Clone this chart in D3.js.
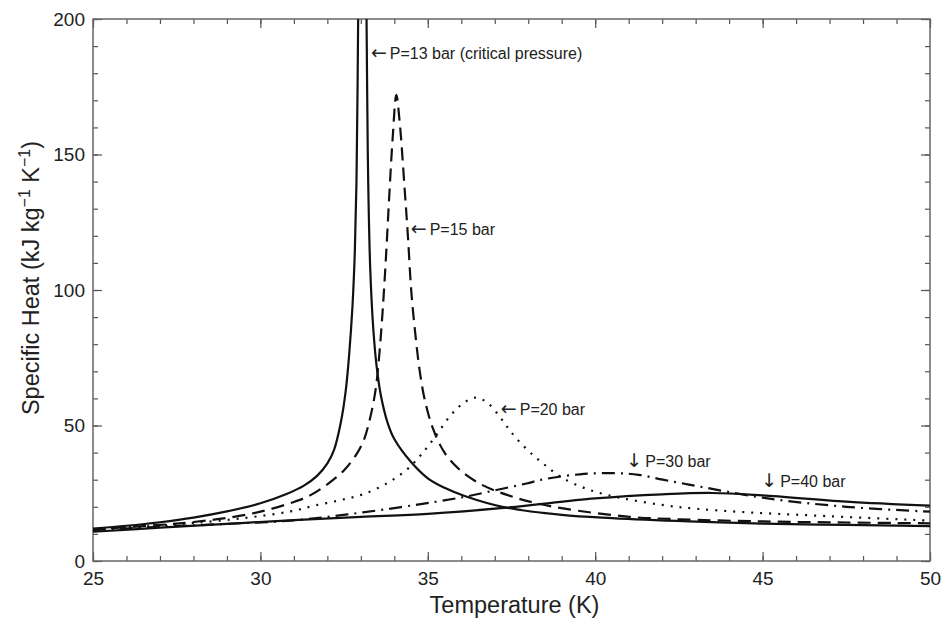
<!DOCTYPE html>
<html>
<head>
<meta charset="utf-8">
<script src="https://cdn.jsdelivr.net/npm/d3@7"></script>
<style>
  body { margin: 0; background: #fff; }
  svg text { font-family: "Liberation Sans", Arial, Helvetica, sans-serif; fill: #222; }
  svg text tspan.arrow { font-family: "DejaVu Sans", "Liberation Sans", sans-serif; }
</style>
</head>
<body>
<svg id="chart" width="944" height="621"></svg>
<script>
// Temperature (K) / specific heat (kJ kg-1 K-1) pairs
const p13 = [[25, 12], [26, 13], [27, 14.3], [28, 16], [29, 18.3], [30, 21.3], [30.8, 24.8],
  [31.3, 27.8], [31.7, 31.5], [32.0, 36], [32.2, 41], [32.4, 51], [32.55, 63], [32.65, 76],
  [32.75, 94], [32.82, 114], [32.87, 140], [32.9, 172], [32.93, 215], [33.03, 300],
  [33.16, 215], [33.19, 172], [33.22, 140], [33.28, 108], [33.37, 86], [33.47, 72],
  [33.6, 61], [33.8, 51], [34.0, 45], [34.5, 36.5], [35.0, 30.5], [35.5, 27], [36.1, 24],
  [37.3, 19.8], [39, 17], [40.5, 15.8], [42.8, 14.6], [45, 13.8], [47.5, 13.3], [50, 12.9]];
const p15 = [[25, 11.7], [27, 13.3], [28, 14.4], [29, 15.9], [30, 18.2], [31.0, 21.8],
  [31.5, 24.3], [32.0, 28.3], [32.5, 33.5], [32.9, 40], [33.1, 45], [33.3, 54], [33.45, 64],
  [33.55, 76], [33.65, 92], [33.75, 112], [33.85, 135], [33.95, 156], [34.06, 172],
  [34.16, 162], [34.31, 137], [34.41, 119], [34.51, 99], [34.66, 80], [34.76, 70],
  [34.9, 60], [35.15, 49], [35.5, 40], [35.96, 33.6], [36.5, 28.9], [37.0, 26],
  [37.54, 23.7], [38.04, 21.9], [39.04, 19.4], [41.03, 16.3], [42.5, 15.4], [45, 14.6],
  [47.5, 14.2], [50, 13.9]];
const p20 = [[25, 11.8], [27, 13.1], [28, 14], [29.4, 15.7], [30.9, 18.3], [31.6, 20.4],
  [32.4, 22.5], [33.06, 24.6], [33.8, 28.8], [34.4, 34], [34.8, 39.2], [35.2, 45.5],
  [35.7, 54], [36.1, 58.6], [36.45, 60.3], [36.8, 58.2], [37.15, 53.2], [37.4, 49],
  [37.7, 44.5], [38.14, 39.1], [38.5, 35.4], [39, 30.8], [39.84, 26.2], [40.83, 23.1],
  [42, 20.7], [43, 19.3], [44.5, 18], [46.5, 16.8], [50, 14.9]];
const p30 = [[25, 11.4], [27, 12.6], [29, 13.7], [30.9, 14.9], [32.6, 17.2], [34.2, 19.9],
  [35.26, 21.9], [36.15, 23.8], [37.05, 26.2], [37.95, 28.6], [38.4, 30], [39.54, 32],
  [40.63, 32.4], [41.3, 31.8], [42.02, 30], [42.8, 28.2], [45.1, 23.2], [47.5, 20], [50, 18.2]];
const p40 = [[25, 10.8], [27, 12.3], [29, 13.7], [31, 15.1], [33, 16.3], [35, 17.4],
  [37.35, 19.7], [40, 23.1], [42, 24.6], [43.5, 25.1], [45, 24.2], [47.5, 21.9], [50, 20.4]];

const xMajor = [25, 30, 35, 40, 45, 50];
const yMajor = [0, 50, 100, 150, 200];
const xMinor = d3.range(25, 51, 1);
const yMinor = d3.range(0, 201, 10);

// Layout
const margin = { top: 19, right: 14, bottom: 60, left: 93 };
const width = 944 - margin.left - margin.right;
const height = 621 - margin.top - margin.bottom;

const svg = d3.select('#chart')
  .append('g')
  .attr('transform', `translate(${margin.left},${margin.top})`);

const x = d3.scaleLinear().domain([25, 50]).range([0, width]);
const y = d3.scaleLinear().domain([0, 200]).range([height, 0]);

// inward ticks on all four sides
const axes = [
  { make: () => d3.axisBottom(x), t: `translate(0,${height})`, maj: xMajor, min: xMinor, lab: 'x' },
  { make: () => d3.axisTop(x), t: 'translate(0,0)', maj: xMajor, min: xMinor, lab: null },
  { make: () => d3.axisLeft(y), t: 'translate(0,0)', maj: yMajor, min: yMinor, lab: 'y' },
  { make: () => d3.axisRight(y), t: `translate(${width},0)`, maj: yMajor, min: yMinor, lab: null },
];
axes.forEach((ax) => {
  [[ax.min, 5, false], [ax.maj, 9, true]].forEach(([vals, size, major]) => {
    const g = svg.append('g')
      .attr('transform', ax.t)
      .call(ax.make()
        .tickValues(vals)
        .tickSizeInner(-size)
        .tickSizeOuter(0)
        .tickFormat(major && ax.lab ? d3.format('d') : ''));
    g.select('.domain').remove();
    g.selectAll('line').attr('stroke', '#555').attr('stroke-width', 1.2);
    const labels = g.selectAll('text').attr('font-size', 19).attr('fill', '#222');
    if (ax.lab === 'x') labels.attr('y', 11);
    if (ax.lab === 'y') labels.attr('x', -8);
  });
});

// frame
svg.append('rect')
  .attr('width', width)
  .attr('height', height)
  .attr('fill', 'none')
  .attr('stroke', '#666')
  .attr('stroke-width', 1.5);

svg.append('clipPath').attr('id', 'plotClip')
  .append('rect').attr('width', width).attr('height', height);

const line = d3.line()
  .curve(d3.curveCatmullRom.alpha(0.5))
  .x((d) => x(d[0]))
  .y((d) => y(d[1]));

const series = [
  { data: p13, dash: null },
  { data: p15, dash: '13,7' },
  { data: p20, dash: '2,7' },
  { data: p30, dash: '13,6,2,6' },
  { data: p40, dash: null },
];

series.forEach((s) => {
  svg.append('path')
    .datum(s.data)
    .attr('clip-path', 'url(#plotClip)')
    .attr('fill', 'none')
    .attr('stroke', '#111')
    .attr('stroke-width', 2.2)
    .attr('stroke-dasharray', s.dash)
    .attr('d', line);
});

// labels on the curves
const notes = [
  { t: 33.3, c: 187.4, arrow: '\u2190', text: 'P=13 bar (critical pressure)' },
  { t: 34.49, c: 122.4, arrow: '\u2190', text: 'P=15 bar' },
  { t: 37.18, c: 56, arrow: '\u2190', text: 'P=20 bar' },
  { t: 40.93, c: 36.6, arrow: '\u2193', text: 'P=30 bar' },
  { t: 44.96, c: 29.3, arrow: '\u2193', text: 'P=40 bar' },
];
const noteText = svg.selectAll('.note')
  .data(notes)
  .enter()
  .append('text')
  .attr('class', 'note')
  .attr('x', (d) => x(d.t))
  .attr('y', (d) => y(d.c))
  .attr('dy', '0.35em')
  .attr('font-size', 16);
noteText.append('tspan')
  .attr('class', 'arrow')
  .attr('fill', '#222')
  .attr('font-size', 19)
  .text((d) => d.arrow);
noteText.append('tspan')
  .attr('dx', 3)
  .text((d) => d.text);

// axis titles
svg.append('text')
  .attr('x', width / 2 + 3)
  .attr('y', height + 52)
  .attr('text-anchor', 'middle')
  .attr('font-size', 23.5)
  .text('Temperature (K)');

const yt = svg.append('text')
  .attr('transform', `translate(-54,${height / 2 - 12}) rotate(-90)`)
  .attr('text-anchor', 'middle')
  .attr('font-size', 23.5);
yt.append('tspan').text('Specific Heat (kJ kg');
yt.append('tspan').attr('dy', -9).attr('font-size', 16).text('\u22121');
yt.append('tspan').attr('dy', 9).text(' K');
yt.append('tspan').attr('dy', -9).attr('font-size', 16).text('\u22121');
yt.append('tspan').attr('dy', 9).text(')');
</script>
</body>
</html>
